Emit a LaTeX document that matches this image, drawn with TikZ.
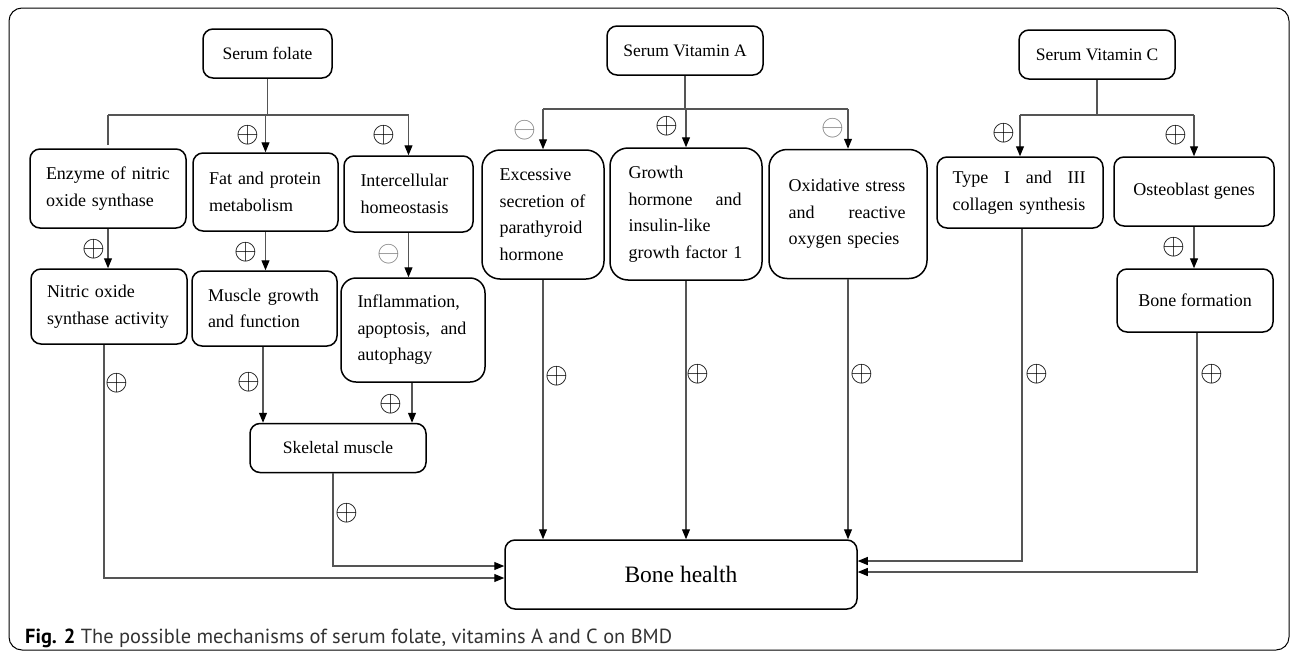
\documentclass[tikz,border=0pt]{standalone}
\usepackage{fontspec}
\setmainfont{Liberation Serif}
\newfontfamily\capfont{PT Sans}
\usetikzlibrary{arrows.meta}
\hyphenpenalty=10000
\exhyphenpenalty=10000
\definecolor{conncol}{HTML}{555555}
\definecolor{minuscol}{HTML}{7A7A7A}
\definecolor{captxt}{HTML}{333333}
\newcommand{\pos}{\scalebox{1.18}{$\oplus$}}
\newcommand{\negs}{\scalebox{1.18}{$\ominus$}}
\tikzset{
  box/.style={draw=black, line width=1.5pt, rounded corners=10pt, align=left,
    inner sep=0pt, font=\fontsize{18}{26.5}\selectfont},
  tallbox/.style={box, rounded corners=18pt},
  headbox/.style={box, align=center, font=\fontsize{17.5}{22}\selectfont},
  conn/.style={draw=conncol, line width=1.1pt},
  arr/.style={conn, -{Triangle[length=10pt,width=8pt,color=black]}},
  plus/.style={inner sep=0pt, font=\fontsize{24.88}{25}\selectfont},
  minus/.style={plus, text=minuscol}
}
\begin{document}
\begin{tikzpicture}[x=1pt,y=-1pt]
\useasboundingbox (0,0) rectangle (1290,653);
\draw[line width=1pt, rounded corners=13pt] (9,8) rectangle (1289,650);

% top sources
\node[headbox, minimum width=129pt, minimum height=49pt] (folate) at (267.5,53.5) {Serum folate};
\node[headbox, minimum width=156pt, minimum height=49pt] (vitA) at (685,50.5) {Serum Vitamin A};
\node[headbox, minimum width=156pt, minimum height=49pt] (vitC) at (1097,54.5) {Serum Vitamin C};

% second row
\node[box, minimum width=156pt, minimum height=79pt, text width=124pt] (enzyme) at (108,188.5) {Enzyme of nitric\\oxide synthase};
\node[box, minimum width=145pt, minimum height=78pt, text width=113pt] (fat) at (265.5,192) {Fat and protein\\metabolism};
\node[box, minimum width=129pt, minimum height=76pt, text width=96pt] (inter) at (408.5,194) {Intercellular\\homeostasis};
\node[tallbox, minimum width=122pt, minimum height=129pt, text width=87pt] (excess) at (543,214.5) {Excessive\\secretion of\\parathyroid\\hormone};
\node[tallbox, minimum width=152pt, minimum height=132pt, text width=115pt] (growth) at (686,214) {Growth\\\makebox[113pt][l]{hormone\hfill and}\\insulin-like\\growth factor 1};
\node[tallbox, minimum width=158pt, minimum height=129pt, text width=119pt] (oxid) at (848,214) {Oxidative stress\\\makebox[117pt][l]{and\hfill reactive}\\oxygen species};
\node[box, minimum width=166pt, minimum height=71pt, text width=135pt] (typeI) at (1020,192.5) {\makebox[133pt][l]{Type\hfill I\hfill and\hfill III}\\collagen synthesis};
\node[box, align=center, minimum width=160pt, minimum height=69pt] (osteo) at (1194,191.5) {Osteoblast genes};

% third row
\node[box, minimum width=156pt, minimum height=75pt, text width=124pt] (nitric) at (109,306.5) {Nitric oxide\\synthase activity};
\node[box, minimum width=145pt, minimum height=75pt, text width=113pt] (muscle) at (264.5,308.5) {\makebox[111pt][l]{Muscle\hfill growth}\\and function};
\node[box, rounded corners=15pt, minimum width=144pt, minimum height=104pt, text width=111pt] (inflam) at (413,330) {Inflammation,\\\makebox[109pt][l]{apoptosis,\hfill and}\\autophagy};
\node[box, align=center, minimum width=156pt, minimum height=63pt] (bf) at (1195,300.5) {Bone formation};
\node[headbox, minimum width=176pt, minimum height=49pt] (skeletal) at (338,448) {Skeletal muscle};

% target
\node[box, align=center, minimum width=352pt, minimum height=69pt, font=\fontsize{23.5}{28}\selectfont] (bone) at (681,574.5) {Bone health};

% branch bars
\coordinate (fbar) at (267,115);
\coordinate (abar) at (685,109);
\coordinate (cbar) at (1097,115);

\draw[conn] (folate.south) -- (folate.south |- fbar);
\draw[conn] (enzyme.north |- fbar) -- (inter.north |- fbar);
\draw[conn] (enzyme.north |- fbar) -- ([yshift=3pt]enzyme.north);
\draw[arr] (fat.north |- fbar) -- (fat.north);
\draw[arr] (inter.north |- fbar) -- (inter.north);

\draw[conn] (vitA.south) -- (abar);
\draw[conn] (excess.north |- abar) -- (oxid.north |- abar);
\draw[arr] (excess.north |- abar) -- (excess.north);
\draw[arr] (growth.north |- abar) -- (growth.north);
\draw[arr] (oxid.north |- abar) -- (oxid.north);

\draw[conn] (vitC.south) -- (cbar);
\draw[conn] (typeI.north |- cbar) -- (osteo.north |- cbar);
\draw[arr] (typeI.north |- cbar) -- (typeI.north);
\draw[arr] (osteo.north |- cbar) -- (osteo.north);

% second to third row
\draw[arr] (enzyme.south) -- (enzyme.south |- nitric.north);
\draw[arr] (fat.south) -- (fat.south |- muscle.north);
\draw[arr] (inter.south) -- (inter.south |- inflam.north);
\draw[arr] (osteo.south) -- (osteo.south |- bf.north);

% into skeletal muscle
\draw[arr] ([xshift=-1.5pt]muscle.south) -- ([xshift=-1.5pt]muscle.south |- skeletal.north);
\draw[arr] ([xshift=-1pt]inflam.south) -- ([xshift=-1pt]inflam.south |- skeletal.north);

% into bone health
\draw[arr] ([xshift=-5pt]skeletal.south) |- ([yshift=8.5pt]bone.west);
\draw[arr] ([xshift=-5pt]nitric.south) |- ([yshift=-3.5pt]bone.west);
\draw[arr] (excess.south) -- (excess.south |- bone.north);
\draw[arr] (growth.south) -- (growth.south |- bone.north);
\draw[arr] (oxid.south) -- (oxid.south |- bone.north);
\draw[arr] ([xshift=2pt]typeI.south) |- ([yshift=13.5pt]bone.east);
\draw[arr] ([xshift=2pt]bf.south) |- ([yshift=2.5pt]bone.east);

% signs
\node[plus] (s1) at (248,135) {\pos};
\node[plus] (s2) at (384,135) {\pos};
\node[minus] (s3) at (525,130) {\negs};
\node[plus] (s4) at (667,126) {\pos};
\node[minus] (s5) at (833,128) {\negs};
\node[plus] (s6) at (1004,133) {\pos};
\node[plus] (s7) at (1176,135) {\pos};
\node[plus] (s8) at (94,249) {\pos};
\node[plus] (s9) at (246,252) {\pos};
\node[minus] (s10) at (389,254) {\negs};
\node[plus] (s11) at (1174,247) {\pos};
\node[plus] (s12) at (117,383) {\pos};
\node[plus] (s13) at (249,382) {\pos};
\node[plus] (s14) at (391,404) {\pos};
\node[plus] (s15) at (347,513) {\pos};
\node[plus] (s16) at (557,376) {\pos};
\node[plus] (s17) at (698,374) {\pos};
\node[plus] (s18) at (862,374) {\pos};
\node[plus] (s19) at (1037,374) {\pos};
\node[plus] (s20) at (1212,374) {\pos};

% caption
\node[anchor=base west, inner sep=0pt, text=captxt] (cap) at (25,643)
  {\resizebox{647pt}{!}{\capfont\fontsize{17}{17}\selectfont\textcolor{black}{\textbf{Fig. 2}} The possible mechanisms of serum folate, vitamins A and C on BMD}};
\end{tikzpicture}
\end{document}
